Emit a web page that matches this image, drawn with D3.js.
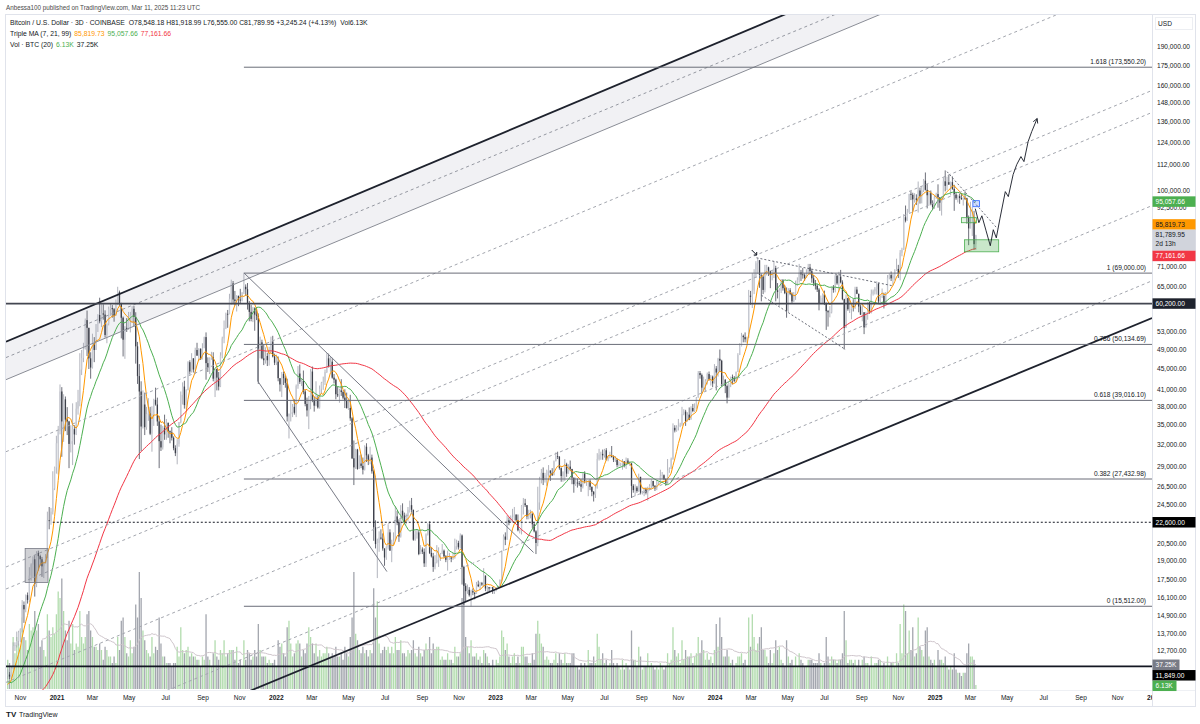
<!DOCTYPE html>
<html>
<head>
<meta charset="utf-8">
<script src="https://cdn.jsdelivr.net/npm/d3@7"></script>
<style>
  body { margin: 0; background: #fff; }
  svg { display: block; font-family: "Liberation Sans", Arial, sans-serif; }
</style>
</head>
<body>
<div class="chart"></div>
<script>
// 3D candles, prices in thousands of USD, first candle opens 2020-10-11
var startDate = "2020-10-11";

// closes before the visible range, only used to seed the moving averages
var preCloses = [
  7.15,7.25,7.3,7.2,6.95,7.35,8.05,8.0,8.8,8.9, 8.7,8.65,8.6,9.3,9.35,9.6,9.8,10.1,10.35,9.9,
  10.2,9.7,9.3,8.7,8.75,9.05,8.05,7.9,5.35,5.3, 6.2,5.85,6.75,6.25,6.8,6.8,7.2,6.85,6.65,7.1,
  7.15,7.1,7.55,7.75,8.65,8.9,9.95,8.75,9.3,9.7, 9.5,9.2,8.8,9.5,9.5,9.65,9.75,9.8,9.45,9.45,
  9.35,9.3,9.25,9.15,9.15,9.1,9.35,9.25,9.3,9.15, 9.2,9.55,9.7,11.05,11.35,11.1,11.75,11.7,11.55,11.8,
  12.25,11.75,11.65,11.5,11.7,11.4,10.2,10.3,10.35,10.45, 10.95,11.1,10.4,10.7,10.75,10.6,10.65,10.95,11.4
];

var closes = [
  11.42,11.32,11.75,12.98,13.03,13.28,13.8,14.0,15.6,15.3,
  16.3,15.96,17.8,18.7,19.15,17.15,19.7,19.42,19.15,18.55,
  18.8,19.27,22.8,22.75,23.7,26.3,28.9,32.2,34.0,40.6,
  35.5,39.2,35.8,35.5,32.1,32.5,34.3,33.5,37.6,38.9,
  44.8,47.2,49.1,55.9,54.0,47.1,45.2,50.4,48.9,54.9,
  57.2,55.6,57.6,57.3,52.3,55.0,58.8,59.0,58.7,57.0,
  60.0,63.4,60.1,56.5,51.2,54.0,53.6,56.6,57.2,58.8,
  56.7,49.7,43.5,40.6,34.7,38.3,34.6,36.7,36.8,33.6,
  36.7,39.1,38.3,35.5,32.5,31.6,34.5,33.5,35.3,34.0,
  33.8,33.0,31.5,30.8,32.1,35.4,40.0,41.5,38.2,40.9,
  46.3,44.4,47.1,44.8,48.9,47.7,49.1,46.9,49.3,51.8,
  46.1,45.2,47.1,47.3,43.0,44.9,43.2,41.5,47.7,51.5,
  53.9,57.5,57.4,61.5,65.9,61.3,60.9,62.3,61.3,61.0,
  63.3,64.9,64.2,60.3,58.0,56.2,58.9,57.3,57.0,49.2,
  50.6,47.1,46.7,47.6,46.7,48.6,50.8,47.5,46.2,46.4,
  43.1,41.9,43.9,43.1,42.2,36.3,36.7,37.0,37.9,36.9,
  41.6,44.0,42.4,42.6,40.6,38.4,37.3,39.1,44.4,39.1,
  38.1,39.4,37.8,41.1,42.2,42.4,44.3,47.1,45.5,46.4,
  43.2,42.8,40.1,39.9,40.8,40.5,39.5,38.9,37.7,37.7,
  36.0,30.1,28.9,31.3,28.7,29.4,29.1,28.6,31.7,30.5,
  29.9,30.2,28.4,22.1,20.5,20.6,21.1,21.0,20.1,19.3,
  20.2,21.6,19.9,20.6,20.8,23.2,22.6,21.2,23.8,23.3,
  22.6,23.2,23.9,24.4,23.9,20.9,21.4,21.6,19.6,20.0,
  19.8,18.8,21.4,22.4,19.7,19.4,18.5,18.9,19.1,19.4,
  19.6,19.9,19.4,19.1,19.1,19.3,19.2,19.3,20.3,20.6,
  20.2,21.3,18.5,17.0,16.6,16.7,16.3,16.6,16.5,16.4,
  17.1,16.97,17.2,17.1,17.8,16.8,16.9,16.8,16.9,16.6,
  16.6,16.85,16.95,17.45,19.9,21.2,20.9,22.8,22.6,23.1,
  23.1,23.4,22.8,21.8,21.8,24.3,24.6,24.4,23.2,23.5,
  23.5,22.4,21.7,20.6,24.7,27.4,28.2,27.3,27.9,28.4,
  28.5,28.2,27.9,29.7,30.4,30.3,28.8,27.8,28.3,29.3,
  28.1,29.0,28.7,27.6,26.8,27.0,26.9,26.8,26.5,28.1,
  27.2,27.2,27.2,26.5,25.9,25.6,26.3,30.0,30.6,30.7,
  30.5,31.2,29.9,30.3,30.4,30.3,29.9,29.9,29.2,29.3,
  29.3,29.7,29.1,29.8,29.4,29.4,26.6,26.1,26.4,26.0,
  27.7,25.8,25.8,26.2,25.8,26.2,26.6,27.2,26.6,26.3,
  27.0,27.0,27.8,27.9,27.4,26.9,28.5,28.7,30.0,34.5,
  34.1,34.6,34.7,35.0,36.7,37.1,35.5,36.6,35.8,37.7,
  37.2,37.7,39.5,44.1,43.7,41.3,41.9,42.6,43.9,42.9,
  43.4,42.1,45.0,44.2,47.0,46.6,41.7,42.8,41.6,39.5,
  41.8,43.3,43.1,42.6,44.3,47.8,49.7,52.1,51.8,51.3,
  51.7,62.4,62.0,63.8,68.3,72.1,73.1,68.4,67.9,64.0,
  69.9,70.8,69.7,68.5,69.4,70.6,63.9,63.4,63.8,66.8,
  64.5,63.1,58.3,63.9,62.9,60.8,62.9,65.2,66.9,69.2,
  68.6,68.4,67.5,68.8,70.8,69.6,67.4,66.0,65.2,64.1,
  60.3,61.7,62.7,60.2,58.2,57.9,57.9,64.8,64.0,68.2,
  65.9,67.9,66.2,61.4,54.0,61.7,58.7,58.7,59.5,59.4,
  64.1,62.9,59.4,57.3,57.9,54.1,57.6,60.5,58.2,62.9,
  63.6,64.3,65.8,60.8,62.1,62.3,60.3,62.9,67.6,68.4,
  67.4,68.2,69.9,70.3,68.8,75.6,76.6,88.6,87.3,90.5,
  98.4,98.0,96.0,96.4,95.8,99.9,97.4,100.0,104.4,100.2,
  97.8,98.7,94.2,92.8,96.9,98.3,96.9,94.6,96.5,104.1,
  102.0,103.7,102.6,103.7,100.6,98.1,96.5,97.4,96.6,96.1,
  96.6,96.5,88.6,84.3,86.1,86.8,78.55,81.79
];

var highs = [
  11.7,11.55,11.8,13.2,13.2,13.85,13.9,14.05,15.95,15.85,
  16.35,16.5,18.48,18.8,19.4,19.5,19.85,19.9,19.55,19.35,
  18.95,19.6,23.7,24.2,24.1,28.4,29.0,33.3,34.8,41.9,
  41.4,40.1,39.7,37.85,35.6,34.9,38.5,34.9,38.7,40.9,
  48.2,48.9,50.5,56.3,58.35,51.4,48.4,52.6,51.8,54.9,
  57.4,61.8,60.0,60.0,58.4,55.1,59.4,60.2,59.8,59.0,
  61.3,64.9,63.8,60.4,56.8,54.4,56.4,58.0,58.0,59.5,
  59.6,57.9,50.7,45.9,42.5,40.8,40.4,37.9,39.4,37.9,
  38.0,39.3,41.3,39.5,36.4,35.0,34.8,36.6,35.9,35.1,
  34.1,34.6,33.2,31.9,32.8,35.4,40.6,42.3,42.6,41.0,
  46.5,46.7,48.2,47.1,49.4,50.5,49.3,49.3,50.4,51.9,
  52.9,47.3,47.3,48.5,48.4,45.0,45.0,44.3,48.4,51.9,
  55.8,57.8,58.5,62.9,67.0,66.6,63.7,62.5,62.4,64.3,
  63.3,69.0,65.6,66.0,60.9,59.8,59.3,59.2,59.1,57.6,
  51.9,51.2,50.1,49.5,48.3,49.6,51.9,52.1,48.1,47.9,
  47.5,43.1,44.3,44.4,43.5,43.0,36.8,38.9,38.4,39.2,
  41.9,45.5,45.8,43.0,44.6,40.9,39.5,39.8,44.9,45.4,
  39.7,42.5,39.9,41.7,42.4,43.4,44.8,48.2,48.1,47.4,
  47.2,43.9,43.0,41.5,41.1,42.9,40.8,41.0,40.4,39.2,
  40.0,36.2,32.6,31.4,31.4,30.5,30.6,30.2,31.9,32.2,
  30.7,31.7,30.6,28.6,22.8,21.0,21.7,21.9,21.5,20.1,
  20.3,22.4,21.9,20.9,21.6,24.3,23.8,22.9,24.4,24.6,
  23.6,23.5,24.2,24.9,25.2,23.9,21.8,21.9,21.8,20.4,
  20.2,20.1,21.5,22.5,22.7,20.2,19.7,19.5,20.4,20.2,
  19.7,20.5,20.0,19.5,19.9,19.7,19.4,19.7,21.0,20.9,
  20.8,21.5,21.4,18.6,17.2,17.1,16.9,16.7,16.8,16.5,
  17.3,17.4,17.3,17.3,18.4,17.8,17.0,16.9,16.9,16.9,
  16.7,16.9,17.0,17.5,19.9,21.4,21.6,23.3,23.1,23.3,
  24.0,24.2,23.4,23.4,21.9,24.4,25.2,25.1,24.3,23.9,
  23.9,22.5,22.6,21.8,26.5,27.7,28.7,28.9,28.2,28.6,
  29.2,28.5,28.8,29.8,30.9,31.0,30.4,28.9,28.4,30.0,
  29.5,29.3,29.8,28.7,27.6,27.6,27.5,27.2,27.4,28.2,
  28.4,27.3,27.3,27.4,26.5,26.0,26.8,30.8,31.4,31.0,
  31.3,31.4,31.5,30.4,31.0,31.8,30.5,30.4,30.1,29.7,
  29.5,30.0,29.4,30.2,30.1,29.7,29.5,26.8,26.8,26.6,
  28.1,27.5,26.0,26.4,26.4,26.5,26.8,27.4,27.2,26.7,
  27.3,27.1,28.6,28.3,28.0,27.5,30.0,28.9,30.2,35.2,
  34.9,34.9,35.9,35.3,37.9,37.5,37.4,37.0,37.8,38.0,
  38.4,38.5,39.6,44.5,44.5,44.0,43.4,42.9,44.2,44.4,
  43.7,43.6,45.9,45.5,47.2,49.0,46.8,43.6,42.9,41.9,
  42.2,43.4,43.8,43.5,44.4,48.2,50.4,52.8,52.4,52.9,
  51.9,64.0,63.7,69.0,70.2,72.8,73.8,72.4,68.9,68.3,
  71.6,71.6,71.0,69.3,69.8,72.8,71.3,66.0,64.5,67.2,
  67.2,65.3,64.7,64.5,64.5,63.3,63.4,66.7,67.7,71.9,
  70.0,70.6,68.9,70.2,71.9,71.9,70.2,68.4,66.9,65.7,
  64.5,62.4,63.0,63.8,60.5,58.5,59.5,64.9,65.4,68.4,
  68.5,69.4,70.0,66.8,61.5,62.7,61.8,61.8,59.8,61.4,
  64.9,64.9,62.9,59.9,59.8,57.0,58.0,60.6,60.6,64.1,
  64.1,64.8,66.5,66.0,62.4,64.4,63.2,63.4,68.4,68.9,
  69.5,68.8,70.2,73.6,71.6,76.5,77.3,89.9,93.4,92.0,
  98.4,99.6,98.9,98.7,98.2,104.0,101.2,101.9,105.2,108.3,
  102.8,99.5,99.9,95.6,97.8,98.9,102.7,95.4,97.4,105.9,
  109.3,106.3,107.1,104.0,106.4,102.5,99.1,98.0,98.5,98.8,
  97.0,99.5,96.7,89.3,95.0,92.8,91.2,81.92
];

var lows = [
  11.2,11.2,11.2,11.7,12.7,12.9,13.0,13.2,13.8,14.4,
  15.1,15.7,15.8,17.4,17.6,16.2,16.9,18.2,18.6,17.7,
  17.6,18.9,19.3,21.9,22.35,23.4,26.1,28.1,28.0,33.5,
  30.3,32.4,34.0,33.4,28.8,30.9,29.2,32.0,33.4,36.6,
  38.0,43.7,46.3,49.0,47.6,44.9,43.0,45.0,46.3,49.3,
  53.0,55.1,54.2,56.0,51.7,50.4,54.6,57.0,56.5,55.5,
  57.9,59.8,59.6,51.5,47.5,47.0,53.0,53.5,52.9,55.2,
  54.3,46.0,42.0,30.0,31.1,34.4,33.4,34.2,35.6,33.4,
  31.0,34.8,38.1,34.8,28.8,31.1,31.3,32.7,32.7,33.0,
  32.2,32.6,31.2,30.4,29.3,31.7,35.2,38.3,37.6,37.5,
  40.8,43.8,44.2,44.2,43.9,47.6,46.6,46.8,46.9,49.5,
  42.8,44.3,43.9,46.8,42.5,39.6,40.8,40.8,41.4,47.1,
  50.4,53.7,54.0,57.7,59.9,60.0,59.7,58.1,59.5,60.1,
  60.8,62.8,62.3,58.6,55.6,55.6,55.4,53.3,55.9,42.0,
  47.1,46.9,45.7,46.0,45.5,45.6,48.0,47.3,45.7,45.7,
  42.5,40.6,39.6,41.8,41.3,35.5,32.9,35.5,36.2,36.6,
  36.2,41.1,42.0,41.6,40.1,38.0,36.3,34.3,37.5,38.7,
  37.1,38.0,37.6,37.6,40.2,40.9,41.8,44.1,45.2,44.2,
  43.0,42.1,39.2,39.6,38.6,39.8,39.2,37.7,37.6,37.4,
  35.6,30.0,26.7,28.7,28.6,28.7,28.8,28.0,28.5,29.6,
  29.2,29.3,28.1,20.8,20.1,17.6,19.8,20.9,19.9,18.6,
  19.1,20.0,19.9,18.9,20.4,20.8,22.3,20.7,21.1,23.0,
  22.4,22.4,22.7,23.6,23.6,20.8,20.8,21.0,19.5,19.6,
  19.6,18.5,18.5,21.3,19.6,19.3,18.1,18.3,18.8,18.5,
  19.0,19.6,19.3,18.9,18.2,19.1,18.9,19.1,19.2,20.0,
  20.0,20.1,17.1,15.6,15.8,16.4,16.2,15.5,16.3,16.0,
  16.4,16.9,16.7,17.0,16.9,16.6,16.4,16.6,16.8,16.4,
  16.4,16.6,16.8,16.9,17.3,19.9,20.4,20.9,22.3,22.9,
  22.6,22.8,22.7,21.7,21.5,21.4,23.4,24.2,22.9,22.9,
  23.0,22.0,21.6,19.6,20.3,23.9,26.9,26.7,27.0,26.6,
  27.7,27.2,27.8,27.9,29.7,30.0,28.6,27.1,27.1,27.2,
  27.7,28.1,28.4,26.8,25.8,26.6,26.4,26.6,25.9,26.3,
  26.9,26.6,25.4,26.1,25.4,24.8,25.2,26.3,29.8,29.9,
  29.9,30.2,29.8,29.7,30.1,30.2,29.6,29.6,28.9,29.0,
  29.0,28.6,28.9,28.7,29.3,29.1,25.2,25.8,25.4,25.8,
  25.9,25.6,25.6,25.4,25.6,24.9,26.1,26.3,26.4,26.0,
  26.1,26.7,27.2,27.4,27.3,26.6,26.8,28.2,28.9,29.9,
  33.8,33.9,34.1,34.6,34.8,36.5,34.8,35.5,35.7,35.8,
  37.0,37.0,37.6,39.9,43.0,40.2,40.7,40.6,41.9,42.6,
  41.7,41.4,42.1,40.8,43.4,44.3,41.5,41.8,40.3,38.5,
  39.5,41.4,41.9,42.3,42.3,44.4,47.8,49.7,50.6,50.6,
  50.5,51.6,59.9,59.0,62.8,67.5,68.7,64.6,60.8,62.8,
  63.3,68.3,68.1,64.5,66.8,67.5,60.8,61.6,59.6,63.1,
  63.8,62.8,56.5,58.0,62.5,60.2,60.6,61.2,65.1,66.1,
  66.6,67.3,66.6,67.5,68.6,68.5,66.1,65.1,64.1,63.4,
  58.4,60.6,60.1,59.8,53.5,54.3,56.6,57.6,63.2,63.3,
  65.5,63.5,65.9,61.1,49.0,54.6,58.3,57.7,56.1,58.1,
  58.8,62.8,57.9,57.2,55.6,52.5,54.3,56.0,57.5,57.6,
  62.4,62.7,62.7,60.2,59.8,61.7,58.9,60.3,62.9,67.1,
  66.6,65.3,66.8,69.7,67.5,66.8,74.4,76.5,86.6,89.3,
  90.6,95.7,90.8,94.6,93.6,90.5,94.2,94.3,99.2,99.9,
  92.2,93.4,93.5,91.5,92.0,96.2,92.5,91.2,89.3,96.5,
  99.5,100.1,102.4,97.8,100.2,91.2,95.8,94.7,94.1,95.8,
  93.4,95.7,86.1,78.2,84.3,81.5,76.6,76.56
];

// thousands of BTC per candle
var volumes = [
  45,40,35,80,55,80,70,65,110,80,
  75,60,100,90,95,120,90,100,65,75,
  60,50,115,90,80,95,85,115,150,140,
  170,120,90,75,105,70,100,60,70,65,
  120,80,70,80,115,120,90,80,65,65,
  60,70,60,45,65,60,50,50,40,50,
  40,80,60,105,110,80,55,50,75,55,
  65,130,110,180,140,90,75,60,55,50,
  80,55,65,60,110,70,50,50,40,40,
  40,35,40,40,65,50,95,60,55,60,
  65,50,55,50,50,45,45,35,50,45,
  115,50,45,35,55,75,50,45,60,55,
  75,50,55,60,60,60,45,65,40,45,
  35,75,45,60,55,45,50,60,50,100,
  60,50,50,50,40,45,40,40,45,35,
  75,65,70,55,50,95,105,70,50,55,
  70,75,70,50,60,55,70,95,80,70,
  55,70,50,60,50,55,55,65,55,50,
  55,50,65,50,50,55,45,65,55,50,
  80,110,180,85,75,60,55,65,55,60,
  50,60,55,155,110,135,70,55,60,65,
  60,65,55,65,55,80,60,60,75,55,
  55,50,60,55,60,75,55,50,65,55,
  50,60,70,60,80,55,70,60,65,65,
  45,50,45,45,55,45,45,40,65,50,
  50,55,140,170,80,65,55,75,50,50,
  55,45,50,40,60,55,50,40,35,45,
  35,45,40,50,90,80,60,70,50,40,
  50,55,40,50,40,65,65,50,50,40,
  40,55,45,85,105,85,70,65,45,50,
  45,40,40,45,55,40,55,45,40,55,
  40,40,40,55,55,35,35,30,40,35,
  40,35,60,40,40,50,40,85,65,45,
  55,40,45,35,40,60,40,35,40,35,
  30,45,30,40,35,30,90,45,45,35,
  65,50,30,35,35,55,35,40,35,30,
  35,30,40,35,30,35,55,40,45,95,
  60,50,55,40,75,45,60,50,50,55,
  40,50,55,80,55,75,60,45,55,45,
  50,40,60,100,65,110,80,50,50,60,
  50,40,45,35,40,50,50,55,40,45,
  35,110,65,115,80,60,70,80,95,60,
  60,50,40,60,40,55,75,60,65,45,
  40,35,75,50,40,45,35,50,35,55,
  45,40,35,35,45,45,45,40,40,40,
  55,40,35,40,80,50,40,50,45,45,
  40,45,45,55,120,75,40,45,45,40,
  45,35,45,35,45,50,40,40,35,50,
  35,40,40,45,45,35,40,35,50,35,
  40,40,35,55,40,100,55,130,120,55,
  90,60,95,50,55,110,65,60,50,90,
  95,50,45,40,45,35,60,45,45,40,
  50,35,30,35,30,55,30,25,25,20,
  25,25,55,70,50,50,45,6.13
];

var maPeriods = [7, 21, 99];
var maLast = [85819.73, 95057.66, 77161.66];
var lastClose = 81789.95;
var volMaPeriod = 20;
var volLast = [6.13, 37.25];

var priceTicks = [190000,175000,160000,148000,136000,124000,112000,100000,92500,85000,78000,
  71000,65000,59000,53000,49000,45000,41000,38000,35000,32000,29000,26500,24500,22500,
  20500,19000,17500,16100,14900,13700,12700,11800,11000];

var fibRatios = ["0", "0.382", "0.618", "0.786", "1", "1.618"];
var fibPrices = [15512, 27432.98, 39016.10, 50134.69, 69000, 173550.20];
var fibStart = "2021-11-08";

var levelPrices = [60200, 22600, 11849];
var levelStarts = ["2020-09-01", "2020-12-25", "2020-09-01"];

// parallel channel lines: price on 2021-01-01 and on 2025-01-01
var channelFrom = [55860, 51950, 47100, 34090, 20340, 18430, 12130, 8666, 7429];
var channelTo = [291600, 264500, 243600, 175000, 104400, 94590, 62300, 44490, 37750];

// segment drawings: [date, price] pairs
var segments = [
  [["2021-11-08", 69070], ["2023-03-05", 19740]],
  [["2021-12-01", 50230], ["2021-12-01", 42540]],
  [["2021-12-01", 42540], ["2022-07-04", 18120]]
];
var dashedSegments = [
  [["2024-03-10", 73900], ["2024-10-23", 65170]],
  [["2024-03-18", 62500], ["2024-08-05", 49000]],
  [["2025-01-21", 108700], ["2025-04-15", 84180]]
];

// rectangles: [from date, top price, to date, bottom price]
var boxes = [
  ["2020-11-09", 20100, "2020-12-17", 17250],
  ["2025-03-05", 95450, "2025-03-16", 92900],
  ["2025-02-14", 88450, "2025-03-11", 86470],
  ["2025-02-19", 80110, "2025-04-17", 75910]
];
var boxFills = ["rgba(120,123,134,0.35)", "rgba(41,98,255,0.22)", "rgba(76,175,80,0.15)", "rgba(76,175,80,0.3)"];
var boxStrokes = ["#787b86", "#2962ff", "#4caf50", "#4caf50"];

// projected path: days after 2025-01-01 and price
var projDays = [67, 73, 78, 85, 92, 97, 102, 108, 117, 122, 130, 136, 143, 148, 155, 161, 170];
var projPrices = [92100, 86500, 89200, 83400, 78000, 83800, 80800, 88000, 99400, 97200, 107300, 112200, 116300, 113700, 124400, 130100, 137900];

var markerPoint = ["2024-03-07", 75500];

// ---------------------------------------------------------------

var W = 1200, H = 724;
var plotLeft = 6, plotRight = 1152, plotTop = 15, plotBottom = 690;
var ink = "#131722";

var svg = d3.select(".chart").append("svg")
  .attr("width", W)
  .attr("height", H);

var x = d3.scaleUtc()
  .domain([new Date("2021-01-01"), new Date("2025-01-01")])
  .range([57, 935]);

var y = d3.scaleLog()
  .domain([11000, 190000])
  .range([683, 47]);

var yVol = d3.scaleLinear()
  .domain([0, 100])
  .range([689, 624]);

var D = function(s) { return new Date(s); };

svg.append("defs").append("clipPath").attr("id", "plotclip")
  .append("rect")
  .attr("x", plotLeft).attr("y", plotTop)
  .attr("width", plotRight - plotLeft).attr("height", plotBottom - plotTop);

svg.select("defs").append("clipPath").attr("id", "axisclip")
  .append("rect")
  .attr("x", 0).attr("y", plotBottom)
  .attr("width", plotRight).attr("height", 30);

var start = D(startDate);
var bars = closes.map(function(c, i) {
  var o = i > 0 ? closes[i - 1] : preCloses[preCloses.length - 1];
  return {
    t: d3.utcDay.offset(start, 3 * i),
    o: o * 1000,
    h: Math.max(highs[i], o, c) * 1000,
    l: Math.min(lows[i], o, c) * 1000,
    c: c * 1000,
    v: volumes[i]
  };
});

var allCloses = preCloses.concat(closes);
function sma(period) {
  return bars.map(function(b, i) {
    var j = i + preCloses.length;
    return {t: b.t, v: d3.mean(allCloses.slice(j - period + 1, j + 1)) * 1000};
  });
}

var volMa = bars.map(function(b, i) {
  if (i < volMaPeriod - 1) return null;
  return {t: b.t, v: d3.mean(volumes.slice(i - volMaPeriod + 1, i + 1))};
}).filter(function(d) { return d; });

// line through two anchors, stretched across the plot
function extendLine(p1, p2) {
  var x1 = x(p1[0]), y1 = y(p1[1]), x2 = x(p2[0]), y2 = y(p2[1]);
  var k = (y2 - y1) / (x2 - x1);
  return [[plotLeft, y1 + k * (plotLeft - x1)], [plotRight, y1 + k * (plotRight - x1)]];
}

var g = svg.append("g").attr("clip-path", "url(#plotclip)");

var chan = channelFrom.map(function(p, i) {
  return extendLine([D("2021-01-01"), p], [D("2025-01-01"), channelTo[i]]);
});

// shaded band between the upper channel and its grey copy
g.append("path")
  .attr("d", "M" + chan[0][0] + "L" + chan[0][1] + "L" + chan[2][1] + "L" + chan[2][0] + "Z")
  .attr("fill", "#f1f1f4");

// volume
g.append("g")
  .selectAll("rect")
  .data(bars)
  .enter()
  .append("rect")
  .attr("x", d => x(d.t) - 0.65)
  .attr("width", 1.3)
  .attr("y", d => yVol(d.v))
  .attr("height", d => yVol(0) - yVol(d.v))
  .attr("fill", d => d.c >= d.o ? "#b2dcae" : "#a3a6ae");

g.append("path")
  .datum(volMa)
  .attr("d", d3.line().x(d => x(d.t)).y(d => yVol(d.v)))
  .attr("fill", "none")
  .attr("stroke", "#cfc6cc")
  .attr("stroke-width", 1);

// candles
var candle = g.append("g")
  .selectAll("g")
  .data(bars)
  .enter()
  .append("g");

candle.append("line")
  .attr("x1", d => x(d.t)).attr("x2", d => x(d.t))
  .attr("y1", d => y(d.h)).attr("y2", d => y(d.l))
  .attr("stroke", d => d.c >= d.o ? "#a9acb5" : "#5d606b")
  .attr("stroke-width", 0.9);

candle.append("rect")
  .attr("x", d => x(d.t) - 0.65)
  .attr("width", 1.3)
  .attr("y", d => y(Math.max(d.o, d.c)))
  .attr("height", d => Math.max(0.8, Math.abs(y(d.o) - y(d.c))))
  .attr("fill", d => d.c >= d.o ? "#c7cad2" : "#3c3f49");

// triple MA
var maColors = ["#ff9800", "#4caf50", "#f23645"];
maPeriods.forEach(function(p, i) {
  g.append("path")
    .datum(sma(p))
    .attr("d", d3.line().x(d => x(d.t)).y(d => y(d.v)))
    .attr("fill", "none")
    .attr("stroke", maColors[i])
    .attr("stroke-width", 1);
});

// channel lines
var chanStroke = ["#1e222d", "#9598a1", "#8a8d96", "#a3a6ae", "#a3a6ae", "#a3a6ae", "#a3a6ae", "#a3a6ae", "#1e222d"];
var chanWidth = [1.8, 1, 1, 1, 1, 1, 1, 1, 1.8];
var chanDash = [null, "3,3", null, "3,3", "3,3", "3,3", "3,3", "3,3", null];
g.append("g")
  .selectAll("line")
  .data(chan)
  .enter()
  .append("line")
  .attr("x1", d => d[0][0]).attr("y1", d => d[0][1])
  .attr("x2", d => d[1][0]).attr("y2", d => d[1][1])
  .attr("stroke", (d, i) => chanStroke[i])
  .attr("stroke-width", (d, i) => chanWidth[i])
  .attr("stroke-dasharray", (d, i) => chanDash[i]);

// fib retracement
var fib = g.append("g");
fib.selectAll("line")
  .data(fibPrices)
  .enter()
  .append("line")
  .attr("x1", x(D(fibStart))).attr("x2", plotRight)
  .attr("y1", d => y(d)).attr("y2", d => y(d))
  .attr("stroke", "#6a6d78")
  .attr("stroke-width", 1);

// horizontal levels
var levelWidth = [1.8, 1, 1.8];
var levelDash = [null, "2,2", null];
var levelColor = ["#434651", ink, ink];
g.append("g")
  .selectAll("line")
  .data(levelPrices)
  .enter()
  .append("line")
  .attr("x1", (d, i) => x(D(levelStarts[i]))).attr("x2", plotRight)
  .attr("y1", d => y(d)).attr("y2", d => y(d))
  .attr("stroke", (d, i) => levelColor[i])
  .attr("stroke-width", (d, i) => levelWidth[i])
  .attr("stroke-dasharray", (d, i) => levelDash[i]);

// trend drawings
g.append("g")
  .selectAll("line")
  .data(segments)
  .enter()
  .append("line")
  .attr("x1", d => x(D(d[0][0]))).attr("y1", d => y(d[0][1]))
  .attr("x2", d => x(D(d[1][0]))).attr("y2", d => y(d[1][1]))
  .attr("stroke", "#787b86")
  .attr("stroke-width", 1);

g.append("g")
  .selectAll("line")
  .data(dashedSegments)
  .enter()
  .append("line")
  .attr("x1", d => x(D(d[0][0]))).attr("y1", d => y(d[0][1]))
  .attr("x2", d => x(D(d[1][0]))).attr("y2", d => y(d[1][1]))
  .attr("stroke", "#6a6d78")
  .attr("stroke-width", 1)
  .attr("stroke-dasharray", "2,2");

g.append("g")
  .selectAll("rect")
  .data(boxes)
  .enter()
  .append("rect")
  .attr("x", d => x(D(d[0])))
  .attr("y", d => y(d[1]))
  .attr("width", d => x(D(d[2])) - x(D(d[0])))
  .attr("height", d => y(d[3]) - y(d[1]))
  .attr("fill", (d, i) => boxFills[i])
  .attr("stroke", (d, i) => boxStrokes[i])
  .attr("stroke-width", 0.8);

// projected path with arrow head
var proj = projDays.map(function(d, i) {
  return [x(d3.utcDay.offset(D("2025-01-01"), d)), y(projPrices[i])];
});
g.append("path")
  .attr("d", d3.line()(proj))
  .attr("fill", "none")
  .attr("stroke", ink)
  .attr("stroke-width", 0.9);
var pEnd = proj[proj.length - 1], pPrev = proj[proj.length - 2];
var ang = Math.atan2(pEnd[1] - pPrev[1], pEnd[0] - pPrev[0]);
[-0.5, 0.5].forEach(function(a) {
  g.append("line")
    .attr("x1", pEnd[0]).attr("y1", pEnd[1])
    .attr("x2", pEnd[0] - 5 * Math.cos(ang + a)).attr("y2", pEnd[1] - 5 * Math.sin(ang + a))
    .attr("stroke", ink).attr("stroke-width", 0.9);
});

// small arrow marker above the March 2024 top
var mx = x(D(markerPoint[0])), my = y(markerPoint[1]);
g.append("path")
  .attr("d", "M" + (mx - 3) + "," + (my - 3) + "L" + (mx + 2) + "," + (my + 2) +
    "M" + (mx + 2) + "," + (my - 1) + "L" + (mx + 2) + "," + (my + 2) + "L" + (mx - 1) + "," + (my + 2))
  .attr("fill", "none")
  .attr("stroke", ink)
  .attr("stroke-width", 1);

// fib labels
fib.selectAll("text")
  .data(fibPrices)
  .enter()
  .append("text")
  .attr("x", 1146)
  .attr("y", d => y(d) - 3)
  .attr("text-anchor", "end")
  .style("font-size", "6.6px")
  .attr("fill", ink)
  .text((d, i) => fibRatios[i] + " (" + d3.format(",.2f")(d) + ")");

// frame and axis borders
svg.append("rect")
  .attr("x", 5.5).attr("y", 14.5)
  .attr("width", 1190).attr("height", 692)
  .attr("fill", "none")
  .attr("stroke", "#e0e3eb");
svg.append("line")
  .attr("x1", plotRight + 0.5).attr("x2", plotRight + 0.5)
  .attr("y1", plotTop).attr("y2", 706)
  .attr("stroke", "#e0e3eb");
svg.append("line")
  .attr("x1", plotLeft).attr("x2", 1195)
  .attr("y1", plotBottom + 0.5).attr("y2", plotBottom + 0.5)
  .attr("stroke", "#eef0f4");

// value tags on the price scale, pushed apart when they overlap
var fmt = d3.format(",.2f");
var tags = [
  {c: y(maLast[1]), lines: [fmt(maLast[1])], bg: "#4caf50", fg: "#fff", w: 43},
  {c: y(maLast[0]), lines: [fmt(maLast[0])], bg: "#ff9800", fg: ink, w: 43},
  {c: y(lastClose), lines: [fmt(lastClose), "2d 13h"], bg: "#d1d4dc", fg: ink, w: 43},
  {c: y(maLast[2]), lines: [fmt(maLast[2])], bg: "#f23645", fg: "#fff", w: 43},
  {c: y(levelPrices[0]), lines: [fmt(levelPrices[0])], bg: "#1e222d", fg: "#fff", w: 43},
  {c: y(levelPrices[1]), lines: [fmt(levelPrices[1])], bg: "#000", fg: "#fff", w: 43},
  {c: yVol(volLast[1]), lines: [volLast[1] + "K"], bg: "#787b86", fg: "#fff", w: 27},
  {c: y(levelPrices[2]), lines: [fmt(levelPrices[2])], bg: "#000", fg: "#fff", w: 43},
  {c: yVol(volLast[0]), lines: [volLast[0] + "K"], bg: "#4caf50", fg: "#fff", w: 24}
];
tags.sort((a, b) => a.c - b.c);
var prevBottom = -Infinity;
tags.forEach(function(t) {
  t.h = 10.5 * t.lines.length;
  t.top = Math.max(t.c - t.h / 2, prevBottom);
  prevBottom = t.top + t.h;
});

// price axis, skipping labels that sit under a tag
var visibleTicks = priceTicks.filter(function(v) {
  var ty = y(v);
  return !tags.some(t => Math.abs(ty - (t.top + t.h / 2)) < t.h / 2);
});
svg.append("g")
  .selectAll("text")
  .data(visibleTicks)
  .enter()
  .append("text")
  .attr("x", 1157)
  .attr("y", d => y(d) + 2.3)
  .style("font-size", "6.6px")
  .attr("fill", ink)
  .text(d => d3.format(",.2f")(d));

svg.append("rect")
  .attr("x", 1155.5).attr("y", 17.5)
  .attr("width", 37).attr("height", 12)
  .attr("fill", "#fff")
  .attr("stroke", "#eceef2");
svg.append("text")
  .attr("x", 1158).attr("y", 25.8)
  .style("font-size", "6.6px")
  .attr("fill", ink)
  .text("USD");

var tagG = svg.append("g")
  .selectAll("g")
  .data(tags)
  .enter()
  .append("g")
  .attr("transform", d => "translate(" + (plotRight + 0.5) + "," + d.top + ")");
tagG.append("rect")
  .attr("width", d => d.w)
  .attr("height", d => d.h)
  .attr("fill", d => d.bg);
tagG.selectAll("text")
  .data(d => d.lines.map(s => ({s: s, fg: d.fg})))
  .enter()
  .append("text")
  .attr("x", 3)
  .attr("y", (d, i) => 7.6 + i * 9)
  .style("font-size", "6.6px")
  .attr("fill", d => d.fg)
  .text(d => d.s);

// time axis
var months = d3.utcMonth.every(2).range(D("2020-11-01"), D("2026-02-01"));
svg.append("g")
  .attr("clip-path", "url(#axisclip)")
  .selectAll("text")
  .data(months)
  .enter()
  .append("text")
  .attr("x", d => x(d))
  .attr("y", 700)
  .attr("text-anchor", "middle")
  .style("font-size", "6.6px")
  .style("font-weight", d => d.getUTCMonth() === 0 ? "bold" : "normal")
  .attr("fill", ink)
  .text(d => d.getUTCMonth() === 0 ? d.getUTCFullYear() : d3.utcFormat("%b")(d));

// header
svg.append("text")
  .attr("x", 6).attr("y", 9.5)
  .style("font-size", "6.3px")
  .attr("fill", "#4a4a4a")
  .text("Anbessa100 published on TradingView.com, Mar 11, 2025 11:23 UTC");

var legend = svg.append("g").style("font-size", "6.8px");
var l1 = legend.append("text").attr("x", 10).attr("y", 24.5).attr("fill", ink);
l1.append("tspan").text("Bitcoin / U.S. Dollar · 3D · COINBASE");
l1.append("tspan").attr("dx", 4).text("O78,548.18 H81,918.99 L76,555.00 C81,789.95 +3,245.24 (+4.13%)");
l1.append("tspan").attr("dx", 4).text("Vol6.13K");

var l2 = legend.append("text").attr("x", 10).attr("y", 35.5).attr("fill", ink);
l2.append("tspan").text("Triple MA (7, 21, 99)");
maLast.forEach(function(v, i) {
  l2.append("tspan").attr("dx", 3).attr("fill", maColors[i]).text(fmt(v));
});

var l3 = legend.append("text").attr("x", 10).attr("y", 46.5).attr("fill", ink);
l3.append("tspan").text("Vol · BTC (20)");
l3.append("tspan").attr("dx", 3).attr("fill", "#4caf50").text(volLast[0] + "K");
l3.append("tspan").attr("dx", 3).attr("fill", ink).text(volLast[1] + "K");

// footer logo
svg.append("text")
  .attr("x", 6).attr("y", 717)
  .style("font-size", "8px")
  .style("font-weight", "bold")
  .attr("fill", ink)
  .text("TV");
svg.append("text")
  .attr("x", 19).attr("y", 717)
  .style("font-size", "7px")
  .attr("fill", ink)
  .text("TradingView");
</script>
</body>
</html>
